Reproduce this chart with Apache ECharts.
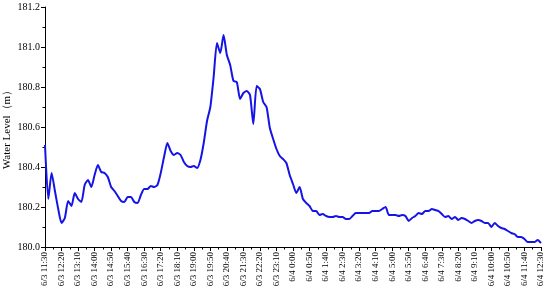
<!DOCTYPE html>
<html>
<head>
<meta charset="utf-8">
<script src="https://cdn.jsdelivr.net/npm/echarts@6/dist/echarts.min.js"></script>
<style>html,body{margin:0;padding:0;background:#fff;}#c{width:550px;height:290px;}</style>
</head>
<body>
<div id="c"></div>
<script>
// Time stamps every 10 minutes from 6/3 11:30 to 6/4 12:30
var categories = [];
(function(){
  var d = 3, h = 11, m = 30;
  for (var k = 0; k < 151; k++) {
    categories.push('6/' + d + ' ' + h + ':' + (m < 10 ? '0' + m : m));
    m += 10; if (m >= 60) { m -= 60; h += 1; if (h >= 24) { h = 0; d += 1; } }
  }
})();

var waterLevel = [
  180.51, 180.24, 180.37, 180.28, 180.19, 180.12, 180.145, 180.23, 180.205, 180.27,
  180.24, 180.225, 180.31, 180.335, 180.30, 180.36, 180.41, 180.375, 180.37, 180.35,
  180.30, 180.28, 180.255, 180.23, 180.225, 180.25, 180.25, 180.225, 180.22, 180.26,
  180.29, 180.29, 180.305, 180.30, 180.31, 180.37, 180.45, 180.52, 180.48, 180.46,
  180.47, 180.46, 180.425, 180.405, 180.40, 180.405, 180.395, 180.435, 180.52, 180.63,
  180.70, 180.85, 181.02, 180.97, 181.06, 180.96, 180.91, 180.83, 180.825, 180.74,
  180.77, 180.78, 180.76, 180.615, 180.805, 180.79, 180.725, 180.70, 180.595, 180.54,
  180.49, 180.455, 180.44, 180.42, 180.36, 180.315, 180.27, 180.30, 180.24, 180.22,
  180.205, 180.18, 180.18, 180.16, 180.165, 180.155, 180.15, 180.15, 180.155, 180.15,
  180.15, 180.14, 180.14, 180.155, 180.17, 180.17, 180.17, 180.17, 180.17, 180.18,
  180.18, 180.18, 180.19, 180.20, 180.16, 180.16, 180.16, 180.155, 180.16, 180.155,
  180.13, 180.145, 180.155, 180.17, 180.165, 180.18, 180.18, 180.19, 180.185, 180.18,
  180.165, 180.15, 180.155, 180.14, 180.15, 180.135, 180.145, 180.14, 180.13, 180.12,
  180.13, 180.135, 180.13, 180.12, 180.12, 180.10, 180.12, 180.105, 180.095, 180.09,
  180.08, 180.07, 180.065, 180.05, 180.05, 180.04, 180.025, 180.025, 180.025, 180.035,
  180.02
];

var yTicks = [180.0, 180.2, 180.4, 180.6, 180.8, 181.0, 181.2];

var seriesData = waterLevel.map(function(v, i){ return [i, v]; });
var font = '"Liberation Serif", "Times New Roman", serif';

var chart = echarts.init(document.getElementById('c'), null, {renderer: 'canvas'});
chart.setOption({
  animation: false,
  backgroundColor: '#fff',
  grid: {left: 45, right: 9, top: 7, bottom: 43, containLabel: false, outerBoundsMode: 'none'},
  xAxis: {
    type: 'value',
    min: 0, max: categories.length - 1, interval: 5,
    axisLine: {show: true, lineStyle: {color: '#000', width: 1}},
    axisTick: {show: true, length: 4, inside: false, lineStyle: {color: '#000'}},
    minorTick: {show: true, splitNumber: 2, length: 2.5, lineStyle: {color: '#000'}},
    splitLine: {show: false},
    axisLabel: {
      rotate: 90, margin: 5, fontFamily: font, fontSize: 9, color: '#000',
      showMinLabel: true, showMaxLabel: true,
      formatter: function(v){ return categories[Math.round(v)] || ''; }
    }
  },
  yAxis: {
    type: 'value',
    min: yTicks[0], max: yTicks[yTicks.length - 1], interval: 0.2,
    name: 'Water Level（m）',
    nameLocation: 'middle', nameGap: 32, nameMoveOverlap: false,
    nameTextStyle: {fontFamily: font, fontSize: 11, color: '#000'},
    axisLine: {show: true, lineStyle: {color: '#000', width: 1}},
    axisTick: {show: true, length: 4, lineStyle: {color: '#000'}},
    minorTick: {show: true, splitNumber: 2, length: 2.5, lineStyle: {color: '#000'}},
    splitLine: {show: false},
    axisLabel: {
      margin: 5, fontFamily: font, fontSize: 10, color: '#000',
      formatter: function(v){ return v.toFixed(1); }
    }
  },
  series: [{
    type: 'line',
    data: seriesData,
    showSymbol: false,
    symbol: 'none',
    smooth: 0.2,
    lineStyle: {color: '#1414e6', width: 2}
  }]
});
</script>
</body>
</html>
